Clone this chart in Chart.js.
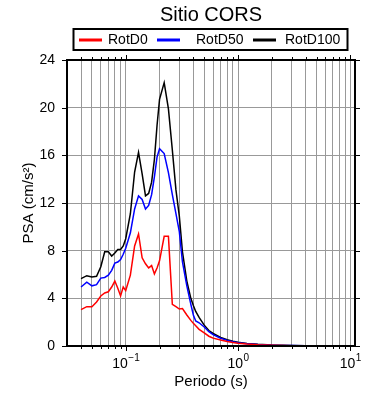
<!DOCTYPE html>
<html>
<head>
<meta charset="utf-8">
<script src="https://cdn.jsdelivr.net/npm/chart.js@4/dist/chart.umd.min.js"></script>
<style>
    html, body { margin: 0; padding: 0; background: #fff; }
    #wrap { width: 390px; height: 400px; }
</style>
</head>
<body>
<div id="wrap"><canvas id="psa-chart" width="390" height="400"></canvas></div>
<script>
// Periods (s), shared by the three curves
const periods = [0.04, 0.045, 0.05, 0.055, 0.06, 0.065, 0.07, 0.075, 0.08, 0.085,
    0.09, 0.095, 0.1, 0.11, 0.12, 0.13, 0.14, 0.15, 0.16, 0.17,
    0.18, 0.19, 0.2, 0.22, 0.24, 0.26, 0.28, 0.3, 0.32, 0.35,
    0.38, 0.4, 0.42, 0.45, 0.5, 0.55, 0.6, 0.7, 0.8, 0.9,
    1.0, 1.2, 1.5, 2, 2.5, 3, 4, 5, 7, 10];

// PSA (cm/s2)
const rotD0 = [3.05, 3.3, 3.3, 3.7, 4.2, 4.45, 4.55, 4.95, 5.45, 4.85,
    4.2, 4.95, 4.65, 5.95, 8.4, 9.4, 7.4, 6.9, 6.55, 6.75,
    6.05, 6.55, 7.15, 9.2, 9.2, 3.5, 3.3, 3.1, 3.15, 2.6,
    2.15, 1.9, 1.7, 1.4, 1.1, 0.82, 0.66, 0.5, 0.38, 0.3,
    0.24, 0.17, 0.11, 0.06, 0.04, 0.03, 0.02, 0.015, 0.01, 0.006];
const rotD50 = [4.95, 5.35, 5.05, 5.15, 5.7, 5.75, 5.95, 6.35, 6.95, 7.05,
    7.25, 7.7, 8.2, 9.5, 11.5, 12.6, 12.3, 11.5, 11.8, 12.7,
    14.2, 15.85, 16.55, 16.15, 14.55, 12.7, 11.1, 9.6, 7.05, 5.05,
    3.5, 2.6, 2.1, 1.95, 1.6, 1.2, 0.95, 0.65, 0.47, 0.36,
    0.28, 0.19, 0.12, 0.07, 0.045, 0.035, 0.022, 0.016, 0.01, 0.007];
const rotD100 = [5.65, 5.9, 5.8, 5.85, 6.65, 7.9, 7.9, 7.55, 7.8, 8.1,
    8.1, 8.4, 9.0, 11.1, 14.6, 16.25, 14.45, 12.6, 12.8, 13.75,
    15.65, 18.5, 20.7, 22.1, 19.9, 16.45, 13.1, 10.9, 7.9, 5.45,
    4.0, 3.4, 2.9, 2.4, 1.75, 1.3, 1.05, 0.72, 0.52, 0.4,
    0.32, 0.22, 0.14, 0.08, 0.055, 0.04, 0.025, 0.018, 0.012, 0.008];

const seriesLabels = ['RotD0', 'RotD50', 'RotD100'];
const seriesColors = ['#ff0000', '#0000ff', '#000000'];

// Axis ticks
const yTicks = [0, 4, 8, 12, 16, 20, 24];
const xDecades = [0.1, 1, 10];
const xDecadeExp = ['\u22121', '0', '1'];
const xGridValues = [0.04, 0.05, 0.06, 0.07, 0.08, 0.09,
    0.1, 0.2, 0.3, 0.4, 0.5, 0.6, 0.7, 0.8, 0.9,
    1, 2, 3, 4, 5, 6, 7, 8, 9, 10];

const FONT = '"Liberation Sans", Arial, Helvetica, sans-serif';

const toPoints = values => periods.map((p, i) => ({ x: p, y: values[i] }));

// Frame, outside ticks, decade labels, title and boxed legend
const framePlugin = {
    id: 'framePlugin',
    afterDraw(chart) {
        const { ctx, chartArea: a, scales: { x, y } } = chart;
        ctx.save();

        // tick marks outside the frame
        ctx.strokeStyle = '#000';
        ctx.lineWidth = 1;
        ctx.beginPath();
        xGridValues.forEach(v => {
            const px = Math.round(x.getPixelForValue(v)) + 0.5;
            const len = xDecades.includes(v) ? 5 : 3;
            ctx.moveTo(px, a.bottom); ctx.lineTo(px, a.bottom + len);
            ctx.moveTo(px, a.top); ctx.lineTo(px, a.top - len);
        });
        yTicks.forEach(v => {
            const py = Math.round(y.getPixelForValue(v)) + 0.5;
            ctx.moveTo(a.left - 5, py); ctx.lineTo(a.left, py);
            ctx.moveTo(a.right, py); ctx.lineTo(a.right + 5, py);
        });
        ctx.stroke();

        // frame
        ctx.lineWidth = 2;
        ctx.strokeRect(a.left, a.top, a.right - a.left, a.bottom - a.top);

        // decade labels 10^n
        ctx.fillStyle = '#000';
        ctx.textBaseline = 'alphabetic';
        ctx.textAlign = 'left';
        xDecades.forEach((v, i) => {
            const px = x.getPixelForValue(v);
            ctx.font = '14px ' + FONT;
            const wb = ctx.measureText('10').width;
            ctx.font = '10px ' + FONT;
            const we = ctx.measureText(xDecadeExp[i]).width;
            const x0 = px - (wb + we) / 2;
            ctx.font = '14px ' + FONT;
            ctx.fillText('10', x0, a.bottom + 22);
            ctx.font = '10px ' + FONT;
            ctx.fillText(xDecadeExp[i], x0 + wb + 0.5, a.bottom + 15);
        });

        // title, centred over the plot
        ctx.font = '20px ' + FONT;
        ctx.textAlign = 'center';
        ctx.textBaseline = 'middle';
        ctx.fillText('Sitio CORS', (a.left + a.right) / 2, 15);

        // legend box
        ctx.lineWidth = 2;
        ctx.strokeRect(73.5, 29, 274, 21);
        const lineX = [79, 157, 253];
        const textX = [108, 196, 285];
        ctx.font = '14px ' + FONT;
        ctx.textAlign = 'left';
        seriesLabels.forEach((lbl, i) => {
            ctx.strokeStyle = seriesColors[i];
            ctx.lineWidth = 3;
            ctx.beginPath();
            ctx.moveTo(lineX[i], 40);
            ctx.lineTo(lineX[i] + 23, 40);
            ctx.stroke();
            ctx.fillText(lbl, textX[i], 40.5);
        });

        ctx.restore();
    }
};

const chart = new Chart(document.getElementById('psa-chart').getContext('2d'), {
    type: 'line',
    data: {
        datasets: seriesLabels.map((lbl, i) => ({
            label: lbl,
            data: toPoints([rotD0, rotD50, rotD100][i]),
            borderColor: seriesColors[i],
            borderWidth: 1.5,
            pointRadius: 0,
            tension: 0,
            fill: false
        }))
    },
    options: {
        responsive: false,
        animation: false,
        devicePixelRatio: 1,
        layout: { padding: { top: 60, right: 35, left: 0, bottom: 0 } },
        plugins: {
            legend: { display: false },
            title: { display: false },
            tooltip: { enabled: false }
        },
        scales: {
            x: {
                type: 'logarithmic',
                min: 0.03,
                max: 11,
                afterBuildTicks: scale => {
                    scale.ticks = xGridValues.map(v => ({ value: v }));
                },
                afterFit: scale => { scale.height = 54; },
                grid: { color: '#999', lineWidth: 1, drawTicks: false },
                border: { display: false },
                ticks: { display: false },
                title: {
                    display: true,
                    text: 'Periodo (s)',
                    color: '#000',
                    font: { family: FONT, size: 15 },
                    padding: { top: 0, bottom: 9 }
                }
            },
            y: {
                min: 0,
                max: 24,
                afterBuildTicks: scale => {
                    scale.ticks = yTicks.map(v => ({ value: v }));
                },
                afterFit: scale => { scale.width = 67; },
                grid: { color: '#999', lineWidth: 1, drawTicks: false },
                border: { display: false },
                ticks: {
                    color: '#000',
                    font: { family: FONT, size: 14 },
                    padding: 12
                },
                title: {
                    display: true,
                    text: 'PSA (cm/s\u00b2)',
                    color: '#000',
                    font: { family: FONT, size: 15 },
                    padding: { top: 20, bottom: 0 }
                }
            }
        }
    },
    plugins: [framePlugin]
});
</script>
</body>
</html>
